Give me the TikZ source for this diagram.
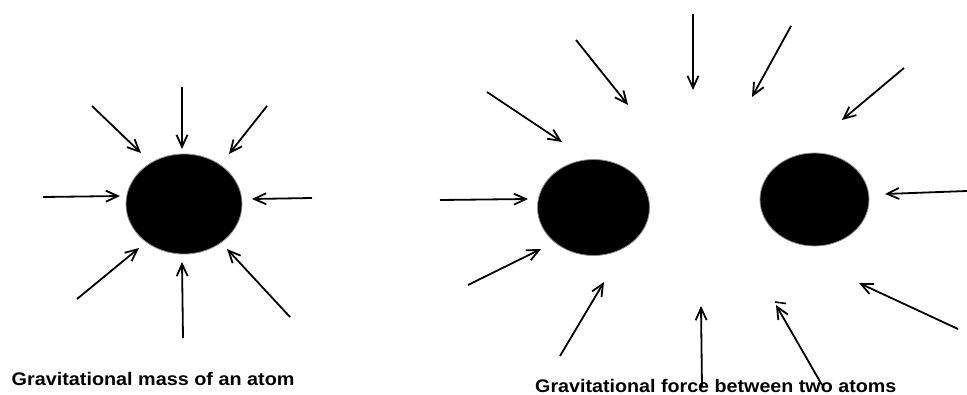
\documentclass[tikz,border=0pt]{standalone}
\usepackage{fontspec}
\setmainfont{Liberation Sans}
\usetikzlibrary{arrows.meta,shapes.geometric}
\begin{document}
\begin{tikzpicture}[x=1pt,y=-1pt,
  arr/.style={line width=1.8pt,-{Straight Barb[length=12pt,width=11pt,line width=1.8pt]}},
  atom/.style={ellipse,fill=black,draw=black!45,line width=0.8pt,inner sep=0pt},
  caption/.style={font=\fontsize{18.2}{20}\selectfont\bfseries,inner sep=0pt,anchor=base west}]
\useasboundingbox (0,0) rectangle (967,394);
% atoms
\node[atom,minimum width=116pt,minimum height=100pt] (A) at (184,204) {};
\node[atom,minimum width=112pt,minimum height=96pt] (B) at (593.5,207.5) {};
\node[atom,minimum width=109pt,minimum height=93pt] (C) at (814.5,199.5) {};
% left atom arrows
\coordinate (l1s) at (182,87);   \coordinate (l1e) at (182,149);
\coordinate (l2s) at (92,106);   \coordinate (l2e) at (141,153);
\coordinate (l3s) at (267,106);  \coordinate (l3e) at (229,154);
\coordinate (l4s) at (43,197);   \coordinate (l4e) at (120,196);
\coordinate (l5s) at (312,198);  \coordinate (l5e) at (252,199);
\coordinate (l6s) at (77,299);   \coordinate (l6e) at (139,248);
\coordinate (l7s) at (183,338);  \coordinate (l7e) at (182,262);
\coordinate (l8s) at (290,317);  \coordinate (l8e) at (227,249);
\foreach \i in {1,...,8} \draw[arr] (l\i s) -- (l\i e);
% two atoms arrows
\coordinate (r1s) at (487,92);   \coordinate (r1e) at (562,142);
\coordinate (r2s) at (576,40);   \coordinate (r2e) at (628,105);
\coordinate (r3s) at (693,14);   \coordinate (r3e) at (693,90);
\coordinate (r4s) at (791,26);   \coordinate (r4e) at (752,97);
\coordinate (r5s) at (904,68);   \coordinate (r5e) at (842,120);
\coordinate (r6s) at (440,200);  \coordinate (r6e) at (528,199);
\coordinate (r7s) at (967,191);  \coordinate (r7e) at (885,194);
\coordinate (r8s) at (468,285);  \coordinate (r8e) at (541,249);
\coordinate (r9s) at (560,356);  \coordinate (r9e) at (604,282);
\coordinate (r10s) at (702,387); \coordinate (r10e) at (701,306);
\coordinate (r11s) at (822,385); \coordinate (r11e) at (776,305);
\coordinate (r12s) at (958,329); \coordinate (r12e) at (859,283);
\foreach \i in {1,...,12} \draw[arr] (r\i s) -- (r\i e);
% stray dash
\draw[line width=1.6pt] (775,302) -- (786,303.5);
% captions
\node[caption] (c1) at (11.5,385.7) {\scalebox{1.088}[1]{Gravitational mass of an atom}};
\node[caption] (c2) at (535,392) {\scalebox{1.082}[1]{Gravitational force between two atoms}};
\end{tikzpicture}
\end{document}
